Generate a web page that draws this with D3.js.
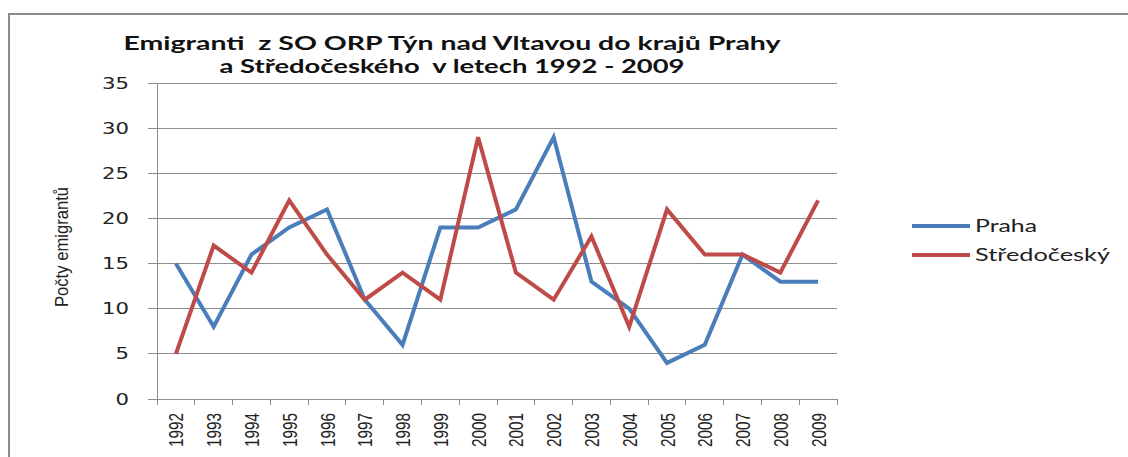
<!DOCTYPE html>
<html><head><meta charset="utf-8">
<script src="https://cdn.jsdelivr.net/npm/d3@7"></script>
<style>html,body{margin:0;padding:0;background:#fff;}svg{display:block;}</style>
</head><body>
<svg id="c" width="1128" height="457"></svg>
<script>
const years = ["1992","1993","1994","1995","1996","1997","1998","1999","2000","2001","2002","2003","2004","2005","2006","2007","2008","2009"];
const praha = [15,8,16,19,21,11,6,19,19,21,29,13,10,4,6,16,13,13];
const stredocesky = [5,17,14,22,16,11,14,11,29,14,11,18,8,21,16,16,14,22];
const yTicks = [0,5,10,15,20,25,30,35];
const seriesNames = ["Praha","Středočeský"];
const titleLines = ["Emigranti  z SO ORP Týn nad Vltavou do krajů Prahy","a Středočeského  v letech 1992 - 2009"];
const yTitle = "Počty emigrantů";

const svg = d3.select("#c");
const colors = ["#4a7ebb","#be4b48"];

// border
svg.append("path").attr("d","M9,457 V14 H1128").attr("fill","none").attr("stroke","#8c8c8c").attr("stroke-width",2);

const x = d3.scaleBand().domain(years).range([157,837]);
const y = d3.scaleLinear().domain([0,35]).range([399,83]);

// gridlines
svg.append("g").selectAll("line").data(yTicks).join("line")
  .attr("x1",148).attr("x2",837).attr("y1",d=>y(d)).attr("y2",d=>y(d))
  .attr("stroke","#8c8c8c").attr("stroke-width",1).attr("shape-rendering","crispEdges");

// y axis line
svg.append("line").attr("x1",157).attr("x2",157).attr("y1",83).attr("y2",405)
  .attr("stroke","#8c8c8c").attr("shape-rendering","crispEdges");
// x tick marks
svg.append("g").selectAll("line").data(d3.range(years.length+1)).join("line")
  .attr("x1",i=>157+i*x.step()).attr("x2",i=>157+i*x.step()).attr("y1",399).attr("y2",405)
  .attr("stroke","#8c8c8c").attr("shape-rendering","crispEdges");

// y tick labels
svg.append("g").selectAll("text").data(yTicks).join("text")
  .attr("x",129).attr("y",d=>y(d)+5.5).attr("text-anchor","end")
  .attr("font-family","DejaVu Sans").attr("font-size",15).attr("fill","#222")
  .attr("textLength",d=>String(d).length*13.5).attr("lengthAdjust","spacingAndGlyphs")
  .text(d=>d);

// x tick labels
svg.append("g").selectAll("text").data(years).join("text")
  .attr("transform",d=>`translate(${x(d)+x.bandwidth()/2+7.5},413) rotate(-90)`)
  .attr("text-anchor","end")
  .attr("font-family","'Liberation Sans Narrow','Liberation Sans',sans-serif").attr("font-size",21).attr("fill","#222")
  .attr("textLength",34).attr("lengthAdjust","spacingAndGlyphs")
  .text(d=>d);

// y title
svg.append("text").attr("transform","translate(68,247) rotate(-90)").attr("text-anchor","middle")
  .attr("font-family","'Liberation Sans Narrow','Liberation Sans',sans-serif").attr("font-size",19).attr("fill","#222")
  .attr("textLength",120).attr("lengthAdjust","spacingAndGlyphs")
  .text(yTitle);

// title
const tl = [{t:titleLines[0],y:50,w:657},{t:titleLines[1],y:73,w:465}];
svg.append("g").selectAll("text").data(tl).join("text")
  .attr("x",452).attr("y",d=>d.y).attr("text-anchor","middle")
  .attr("xml:space","preserve").style("white-space","pre")
  .attr("font-family","Lato,sans-serif").attr("font-weight",700).attr("font-size",19).attr("fill","#111")
  .attr("textLength",d=>d.w).attr("lengthAdjust","spacingAndGlyphs")
  .text(d=>d.t);

// lines
const line = d3.line().x((d,i)=>x(years[i])+x.bandwidth()/2).y(d=>y(d));
[praha,stredocesky].forEach((s,k)=>{
  svg.append("path").datum(s).attr("d",line).attr("fill","none")
    .attr("stroke",colors[k]).attr("stroke-width",4).attr("stroke-linejoin","miter").attr("stroke-linecap","butt");
});

// legend
const lg = svg.append("g");
seriesNames.forEach((n,k)=>{
  const yy = 226 + k*29;
  lg.append("line").attr("x1",912).attr("x2",970).attr("y1",yy).attr("y2",yy).attr("stroke",colors[k]).attr("stroke-width",4);
  lg.append("text").attr("x",975).attr("y",yy+6).attr("font-family","Lato,sans-serif").attr("font-size",17).attr("fill","#222")
    .attr("textLength",k===0?62:135).attr("lengthAdjust","spacingAndGlyphs").text(n);
});
</script>
</body></html>
